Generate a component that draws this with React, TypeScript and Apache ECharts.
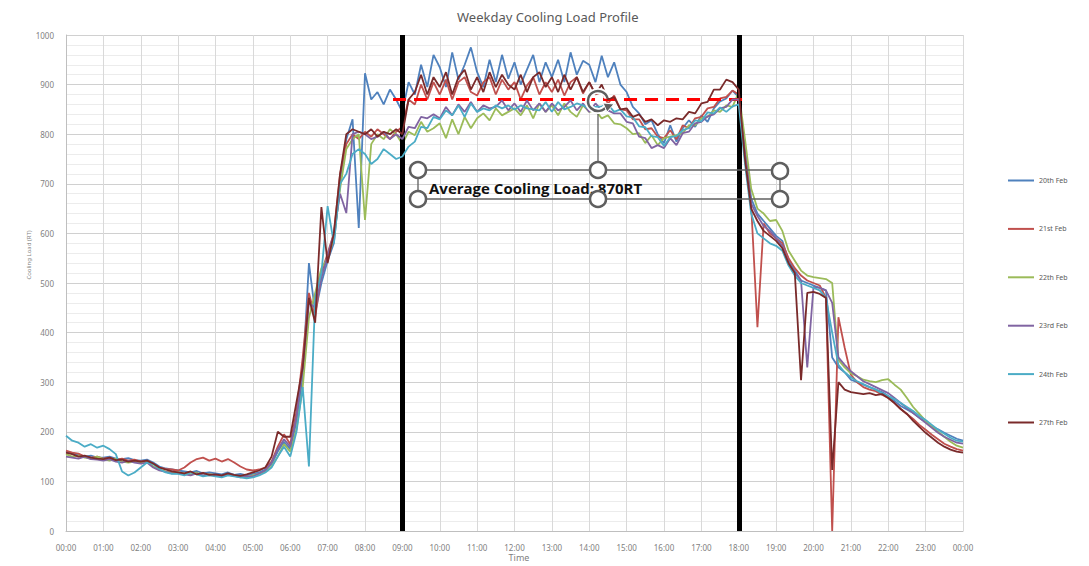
import React, { useEffect, useRef } from "react";
import * as echarts from "echarts";

const STEP_MIN = 10;
const SERIES_NAMES = ["20th Feb", "21st Feb", "22th Feb", "23rd Feb", "24th Feb", "27th Feb"];
const SERIES_COLORS = ["#4F81BD", "#C0504D", "#9BBB59", "#8064A2", "#4BACC6", "#7A2A2A"];

const feb20 = [
  160,156,154,150,152,148, 148,150,146,145,147,143, 142,144,138,130,126,124, 122,120,118,121,116,118,
  116,114,118,113,115,112, 115,118,124,135,160,180, 165,220,310,540,440,500, 545,580,700,790,830,611,
  923,870,885,860,890,870, 845,905,880,940,895,960, 935,895,965,910,940,975, 925,895,950,905,960,912,
  945,900,930,960,905,945, 915,950,905,965,920,948, 940,905,958,915,945,900, 885,855,842,820,828,800,
  782,818,785,812,828,815, 838,825,852,866,872,888, 875,770,670,640,625,610, 595,585,545,525,505,500,
  495,490,485,350,330,320, 305,300,295,290,285,280, 272,262,252,245,238,228, 220,210,205,198,192,186,
  182,
];
const feb21 = [
  162,158,156,150,148,150, 146,148,144,146,142,144, 140,142,135,128,125,124, 122,128,138,145,148,142,
  146,140,145,138,130,124, 122,124,128,140,170,195, 175,240,350,480,430,520, 560,600,720,780,800,790,
  805,795,810,800,790,805, 815,870,860,900,870,905, 880,910,870,905,915,885, 878,905,915,880,910,890,
  905,870,898,915,880,905, 885,910,878,905,915,882, 905,880,885,862,878,850, 848,830,830,810,812,795,
  792,808,790,818,812,832, 835,852,855,872,875,888, 880,760,655,411,620,600, 590,580,550,530,515,505,
  500,495,470,0,431,370, 315,300,290,285,282,275, 268,258,246,236,226,214, 204,194,185,176,170,165,
  162,
];
const feb22 = [
  155,150,152,148,146,150, 145,142,146,140,138,140, 138,140,130,124,120,118, 118,116,114,118,112,115,
  112,110,114,112,110,108, 112,115,120,130,150,175, 160,205,290,430,480,530, 550,590,690,770,790,800,
  627,780,800,790,810,800, 780,805,798,825,805,812, 822,792,830,800,835,812, 832,842,828,852,838,845,
  852,838,858,832,862,845, 858,838,862,845,835,858, 845,848,832,838,822,820, 812,800,802,782,798,778,
  792,795,798,802,818,818, 832,835,848,845,858,855, 885,790,690,650,640,625, 627,605,565,545,525,515,
  512,510,508,500,345,330, 318,312,305,302,300,304, 306,295,285,268,250,236, 222,210,200,190,180,172,
  168,
];
const feb23 = [
  150,148,146,150,145,144, 142,145,140,138,142,138, 136,138,128,122,119,116, 116,114,112,116,112,114,
  112,110,113,111,108,110, 110,116,122,138,165,185, 170,230,330,460,450,510, 555,600,680,641,800,805,
  800,790,795,805,790,800, 790,815,812,835,832,840, 832,855,838,860,845,865, 845,858,852,855,868,848,
  862,845,868,848,862,845, 862,848,855,868,848,862, 845,862,848,848,842,842, 825,822,795,792,772,778,
  772,792,778,802,805,822, 825,836,840,852,855,870, 870,760,660,635,615,605, 590,575,540,520,505,330,
  492,490,485,460,350,335, 322,312,302,296,290,284, 278,268,258,248,238,228, 218,208,198,190,184,178,
  176,
];
const feb24 = [
  192,182,178,170,175,168, 172,165,155,120,112,118, 128,138,135,125,118,115, 115,112,118,114,110,112,
  110,108,112,110,108,106, 108,112,118,128,150,170, 150,200,290,130,470,520, 655,580,700,720,760,770,
  760,740,750,770,760,750, 755,775,785,815,812,835, 830,848,838,858,835,862, 845,852,848,858,852,858,
  850,858,852,850,848,865, 845,865,850,855,862,858, 852,855,856,860,845,850, 836,834,816,814,796,794,
  776,794,796,808,812,828, 826,844,842,854,845,856, 860,740,640,600,590,580, 575,565,535,515,500,495,
  490,485,470,400,335,320, 310,302,296,290,285,278, 272,266,258,250,242,232, 224,214,204,196,188,182,
  180,
];
const feb27 = [
  158,155,150,152,148,146, 145,148,143,144,140,142, 140,142,136,128,124,120, 118,116,120,114,117,113,
  114,112,116,113,111,114, 118,122,128,150,200,190, 190,260,330,470,420,653, 540,600,720,800,810,805,
  800,810,795,805,800,810, 800,870,885,920,880,915, 895,925,880,915,930,890, 915,885,925,895,920,900,
  890,920,885,915,925,895, 915,885,920,890,915,885, 905,880,900,870,875,850, 852,835,840,825,830,818,
  828,825,832,830,845,842, 862,865,890,890,910,905, 890,750,650,625,605,595, 585,570,540,520,304,480,
  482,478,470,123,300,285, 280,278,276,278,274,276, 268,258,246,236,222,210, 198,188,178,170,164,160,
  158,
];

const SERIES_VALUES = [feb20, feb21, feb22, feb23, feb24, feb27];
const WORK_HOURS_MIN = [540, 1080];
const AVG_LOAD = 870;
const AVG_SPAN_MIN = [525, 1095];
const AVG_LABEL = "Average Cooling Load: 870RT";

const fmtTime = (v: number) => {
  const h = Math.round(v / 60) % 24;
  return (h < 10 ? "0" : "") + h + ":00";
};

export default function App() {
  const ref = useRef<HTMLDivElement>(null);
  useEffect(() => {
    document.body.style.margin = "0";
    if (!ref.current) return;
    const chart = echarts.init(ref.current, undefined, { renderer: "svg" });
    const FONT = "'Noto Sans', 'Liberation Sans', sans-serif";
    const handle = (cx: number, cy: number) => ({
      type: "circle",
      shape: { cx, cy, r: 8 },
      style: { fill: "#ffffff", stroke: "#5f5f5f", lineWidth: 2.5 },
      z: 120,
    });
    const boxLine = (x1: number, y1: number, x2: number, y2: number) => ({
      type: "line",
      shape: { x1, y1, x2, y2 },
      style: { stroke: "#5f5f5f", lineWidth: 1.3 },
      z: 110,
    });
    const lines: any[] = SERIES_VALUES.map((vals, si) => ({
      name: SERIES_NAMES[si],
      type: "line",
      data: vals.map((v, i) => [i * STEP_MIN, v]),
      showSymbol: false,
      symbol: "none",
      lineStyle: { width: 1.8, color: SERIES_COLORS[si] },
      itemStyle: { color: SERIES_COLORS[si] },
      emphasis: { disabled: true },
      z: 2 + si,
    }));
    lines.push({
      name: "work",
      type: "line",
      data: [],
      z: 20,
      markLine: {
        silent: true,
        symbol: ["none", "none"],
        label: { show: false },
        lineStyle: { color: "#000000", width: 5, type: "solid" },
        data: WORK_HOURS_MIN.map((m) => ({ xAxis: m })),
      },
    });
    lines.push({
      name: "avg",
      type: "line",
      data: [],
      z: 21,
      markLine: {
        silent: true,
        symbol: ["none", "none"],
        label: { show: false },
        lineStyle: { color: "#FF0000", width: 3, type: [13, 8] },
        data: [[{ coord: [AVG_SPAN_MIN[0], AVG_LOAD] }, { coord: [AVG_SPAN_MIN[1], AVG_LOAD] }]],
      },
    });
    chart.setOption({
      animation: false,
      backgroundColor: "#ffffff",
      title: {
        text: "Weekday Cooling Load Profile",
        left: 452,
        top: 5,
        textStyle: { fontSize: 13, fontWeight: "normal", color: "#595959", fontFamily: FONT },
      },
      legend: {
        data: SERIES_NAMES,
        orient: "vertical",
        left: 1003,
        top: 172,
        icon: "rect",
        itemWidth: 26,
        itemHeight: 2,
        itemGap: 41.4,
        textStyle: { fontSize: 7, color: "#595959", fontFamily: FONT },
      },
      grid: { left: 66, right: 126, top: 35, bottom: 35 },
      xAxis: {
        type: "value",
        min: 0,
        max: 1440,
        interval: 60,
        axisLine: { lineStyle: { color: "#BFBFBF" } },
        axisTick: { show: false },
        axisLabel: { formatter: fmtTime, fontSize: 8, color: "#7f7f7f", margin: 12, fontFamily: FONT },
        splitLine: { show: true, lineStyle: { color: "#D9D9D9" } },
      },
      yAxis: {
        type: "value",
        min: 0,
        max: 1000,
        interval: 100,
        axisLine: { show: true, lineStyle: { color: "#BFBFBF" } },
        axisTick: { show: false },
        axisLabel: { formatter: (v: number) => String(v), fontSize: 8, color: "#7f7f7f", margin: 12, fontFamily: FONT },
        splitLine: { show: true, lineStyle: { color: "#D0D0D0" } },
        minorTick: { show: false, splitNumber: 5 },
        minorSplitLine: { show: true, lineStyle: { color: "#ECECEC" } },
      },
      series: lines,
      graphic: [
        {
          type: "text",
          x: 29,
          y: 255,
          rotation: Math.PI / 2,
          style: { text: "Cooling Load (RT)", fontSize: 6, fill: "#7f7f7f", align: "center", verticalAlign: "middle", fontFamily: FONT },
        },
        {
          type: "text",
          x: 519,
          y: 553,
          style: { text: "Time", fontSize: 9, fill: "#7f7f7f", align: "center", verticalAlign: "top", fontFamily: FONT },
        },
        boxLine(418, 170, 780, 170),
        boxLine(418, 199, 780, 199),
        boxLine(418, 170, 418, 199),
        boxLine(780, 170, 780, 199),
        boxLine(598, 112, 598, 170),
        {
          type: "text",
          x: 429,
          y: 188,
          z: 115,
          style: {
            text: AVG_LABEL,
            fontSize: 15,
            fontWeight: "bold",
            fill: "#111111",
            verticalAlign: "middle",
            fontFamily: "'Open Sans', 'Liberation Sans', sans-serif",
          },
        },
        handle(418, 170),
        handle(598, 170),
        handle(780, 171),
        handle(418, 199),
        handle(598, 199),
        handle(780, 199),
        {
          type: "arc",
          shape: { cx: 598, cy: 101, r: 10, startAngle: 0.5, endAngle: Math.PI * 2 - 0.3, clockwise: true },
          style: { stroke: "#ffffff", lineWidth: 6, fill: "none" },
          z: 120,
        },
        {
          type: "arc",
          shape: { cx: 598, cy: 101, r: 10, startAngle: 0.5, endAngle: Math.PI * 2 - 0.3, clockwise: true },
          style: { stroke: "#5f5f5f", lineWidth: 2.5, fill: "none" },
          z: 121,
        },
        {
          type: "polygon",
          shape: { points: [[603, 103], [614, 104], [607, 112]] },
          style: { fill: "#5f5f5f", stroke: "#ffffff", lineWidth: 1 },
          z: 122,
        },
      ],
    });
    return () => chart.dispose();
  }, []);
  return <div ref={ref} style={{ width: 1089, height: 566 }} />;
}
